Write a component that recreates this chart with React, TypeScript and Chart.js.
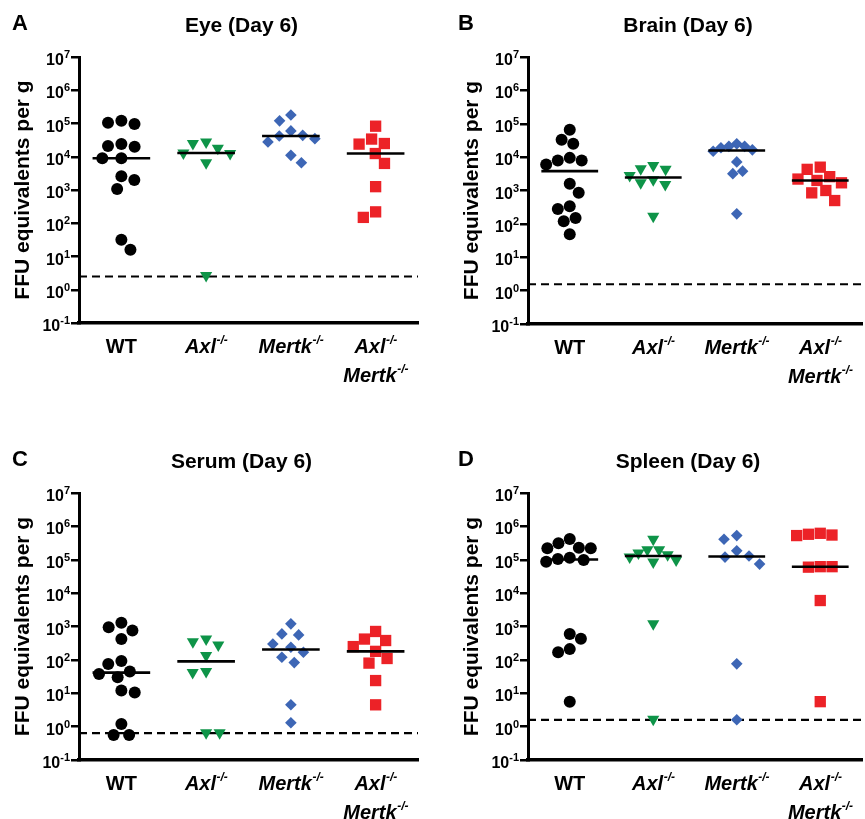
import React, { useEffect, useRef } from 'react';
import { Chart, registerables } from 'chart.js';

Chart.register(...registerables);

// ---------------- data ----------------
const groupLabels = ['WT', 'Axl-/-', 'Mertk-/-', 'Axl-/-\nMertk-/-'];
const groupItalic = [false, true, true, true];
const panelLetters = ['A', 'B', 'C', 'D'];
const panelTitles = ['Eye (Day 6)', 'Brain (Day 6)', 'Serum (Day 6)', 'Spleen (Day 6)'];
const yAxisTitle = 'FFU equivalents per g';
const yTickValues = [1e-1, 1, 1e1, 1e2, 1e3, 1e4, 1e5, 1e6, 1e7];
const detectionLimits = [2.5, 1.55, 0.64, 1.6];

const eyeWT = [1.2e5, 1.05e5, 9.7e4, 2.4e4, 2.1e4, 2.0e4, 9.0e3, 9.0e3, 2.6e3, 2.0e3, 1.07e3, 32, 16];
const eyeAxl = [2.8e4, 2.5e4, 1.8e4, 1.3e4, 1.25e4, 6.6e3, 2.7];
const eyeMertk = [1.8e5, 1.2e5, 6.0e4, 4.4e4, 4.2e4, 3.5e4, 2.8e4, 1.1e4, 6.6e3];
const eyeDKO = [8.3e4, 3.4e4, 2.5e4, 2.4e4, 1.25e4, 6.3e3, 1.26e3, 2.2e2, 1.5e2];

const brainWT = [6.6e4, 3.3e4, 2.5e4, 9.5e3, 7.9e3, 7.9e3, 6.0e3, 1.6e3, 8.5e2, 3.4e2, 2.8e2, 1.5e2, 1.2e2, 49];
const brainAxl = [5.6e3, 4.5e3, 4.3e3, 2.8e3, 2.1e3, 1.7e3, 1.5e3, 1.7e2];
const brainMertk = [2.5e4, 2.1e4, 2.1e4, 1.9e4, 1.65e4, 1.5e4, 7.2e3, 3.8e3, 3.2e3, 2.0e2];
const brainDKO = [5.0e3, 4.3e3, 2.6e3, 2.2e3, 2.0e3, 1.7e3, 1.0e3, 8.5e2, 5.0e2];

const serumWT = [1.3e3, 9.5e2, 7.6e2, 4.2e2, 93, 75, 45, 38, 30, 12, 10.5, 1.2, 0.56, 0.56];
const serumAxl = [4.2e2, 3.5e2, 2.8e2, 1.35e2, 45, 42, 0.65, 0.65];
const serumMertk = [1.2e3, 6.0e2, 5.6e2, 3.0e2, 2.4e2, 1.7e2, 1.2e2, 83, 4.5, 1.3];
const serumDKO = [7.1e2, 4.2e2, 3.8e2, 2.5e2, 1.8e2, 1.1e2, 80, 24, 4.5];

const spleenWT = [4.2e5, 3.1e5, 2.3e5, 2.2e5, 2.2e5, 1.15e5, 1.05e5, 9.8e4, 8.7e4, 6.0e2, 4.3e2, 2.1e2, 1.7e2, 5.6];
const spleenAxl = [4.1e5, 2.0e5, 2.0e5, 1.6e5, 1.4e5, 1.2e5, 9.8e4, 8.5e4, 1.2e3, 1.65];
const spleenMertk = [5.3e5, 4.1e5, 1.85e5, 1.3e5, 1.2e5, 7.4e4, 76, 1.6];
const spleenDKO = [6.2e5, 5.8e5, 5.5e5, 5.3e5, 6.2e4, 6.2e4, 6.0e4, 6.0e3, 5.6];

const panelData = [
  [eyeWT, eyeAxl, eyeMertk, eyeDKO],
  [brainWT, brainAxl, brainMertk, brainDKO],
  [serumWT, serumAxl, serumMertk, serumDKO],
  [spleenWT, spleenAxl, spleenMertk, spleenDKO],
];

// ---------------- styles / layout ----------------
const FONT = '"Liberation Sans", Arial, Helvetica, sans-serif';
const groupColors = ['#000000', '#0e9448', '#3d66b5', '#ec2227'];
const markerStyles = ['circle', 'triangle', 'rectRot', 'rect'];
const markerRadii = [6, 7, 5.8, 8];
const markerRotations = [0, 180, 0, 0];
const SWARM_GAP = 13.5;
const SWARM_MAX = 24;

const layouts = [
  { box: { x: 0, y: 0, w: 430, h: 410, cw: 430 }, area: { left: 79, top: 57, right: 418, bottom: 323 }, letterX: 12 },
  { box: { x: 430, y: 0, w: 435, h: 410, cw: 440 }, area: { left: 528, top: 57, right: 868, bottom: 324 }, letterX: 458 },
  { box: { x: 0, y: 410, w: 430, h: 409, cw: 430 }, area: { left: 79, top: 493, right: 418, bottom: 760 }, letterX: 12 },
  { box: { x: 430, y: 410, w: 435, h: 409, cw: 440 }, area: { left: 528, top: 493, right: 868, bottom: 760 }, letterX: 458 },
];

function median(vals: number[]): number {
  const s = [...vals].sort((a, b) => a - b);
  const n = s.length;
  return n % 2 ? s[(n - 1) / 2] : (s[n / 2 - 1] + s[n / 2]) / 2;
}

// beeswarm: horizontal offsets (px) so markers of diameter d don't overlap,
// compressed to a maximum half-width like a column scatter plot
function swarmOffsets(values: number[], pxPerDecade: number, d: number, maxHalf: number): number[] {
  const idx = values.map((_, i) => i).sort((a, b) => values[b] - values[a]);
  const placed: { x: number; y: number }[] = [];
  const out = new Array(values.length).fill(0);
  let flip = -1;
  for (const i of idx) {
    const y = -Math.log10(values[i]) * pxPerDecade;
    const near = placed.filter((p) => Math.abs(p.y - y) < d);
    const cands = [0];
    for (const p of near) {
      const dx = Math.sqrt(d * d - (p.y - y) * (p.y - y));
      cands.push(p.x + dx, p.x - dx);
    }
    const ok = cands.filter((c) => near.every((p) => (p.x - c) ** 2 + (p.y - y) ** 2 >= d * d - 1e-6));
    ok.sort((a, b) => Math.abs(a) - Math.abs(b));
    const bestAbs = Math.abs(ok[0]);
    const best = ok.filter((c) => Math.abs(Math.abs(c) - bestAbs) < 0.8);
    let x = best[0];
    if (best.length > 1) {
      const side = best.find((c) => Math.sign(c) === flip);
      if (side !== undefined) x = side;
    }
    if (x !== 0) flip = -Math.sign(x);
    placed.push({ x, y });
    out[i] = x;
  }
  const mx = Math.max(...out.map((v) => Math.abs(v)));
  const k = mx > maxHalf ? maxHalf / mx : 1;
  return out.map((v) => v * k);
}

function Panel({ index }: { index: number }) {
  const ref = useRef<HTMLCanvasElement | null>(null);
  const L = layouts[index];
  useEffect(() => {
    const canvas = ref.current;
    if (!canvas) return;
    const { box, area } = L;
    const aLeft = area.left - box.x;
    const aRight = area.right - box.x;
    const aTop = area.top - box.y;
    const aBottom = area.bottom - box.y;
    const pxPerDecade = (aBottom - aTop) / 8;
    const pxPerUnit = (aRight - aLeft) / 4;
    const lod = detectionLimits[index];

    const datasets: any[] = [];
    panelData[index].forEach((vals, gi) => {
      const offs = swarmOffsets(vals, pxPerDecade, SWARM_GAP, SWARM_MAX);
      datasets.push({
        data: vals.map((v, k) => ({ x: gi + offs[k] / pxPerUnit, y: v })),
        pointStyle: markerStyles[gi],
        pointRadius: markerRadii[gi],
        pointHoverRadius: markerRadii[gi],
        pointRotation: markerRotations[gi],
        backgroundColor: groupColors[gi],
        borderColor: groupColors[gi],
        pointBorderWidth: 0,
        showLine: false,
        order: 1,
        clip: false,
      });
      const m = median(vals);
      datasets.push({
        data: [{ x: gi - 0.34, y: m }, { x: gi + 0.34, y: m }],
        showLine: true,
        borderColor: '#000',
        borderWidth: 2.6,
        pointRadius: 0,
        order: 0,
      });
    });
    datasets.push({
      data: [{ x: -0.5, y: lod }, { x: 3.5, y: lod }],
      showLine: true,
      borderColor: '#000',
      borderWidth: 2.2,
      borderDash: [8, 5],
      pointRadius: 0,
      order: 2,
    });

    const textPlugin = {
      id: 'panelText',
      afterDraw(chart: any) {
        const ctx = chart.ctx as CanvasRenderingContext2D;
        const a = chart.chartArea;
        const xs = chart.scales.x;
        const ys = chart.scales.y;
        ctx.save();
        ctx.fillStyle = '#000';
        ctx.textBaseline = 'alphabetic';
        ctx.textAlign = 'left';
        // y tick labels 10^n
        for (const v of yTickValues) {
          const py = ys.getPixelForValue(v);
          const exp = String(Math.round(Math.log10(v)));
          ctx.font = `bold 11px ${FONT}`;
          const ew = ctx.measureText(exp).width;
          ctx.font = `bold 16px ${FONT}`;
          const bw = ctx.measureText('10').width;
          const right = a.left - 9;
          ctx.fillText('10', right - ew - bw, py + 8);
          ctx.font = `bold 11px ${FONT}`;
          ctx.fillText(exp, right - ew, py + 1);
        }
        // x category labels with superscripts
        groupLabels.forEach((lab, i) => {
          const cx = xs.getPixelForValue(i);
          const style = groupItalic[i] ? 'italic bold' : 'bold';
          lab.split('\n').forEach((line, li) => {
            const mm = line.match(/^(.*?)(-\/-)?$/);
            const main = mm ? mm[1] : line;
            const sup = mm && mm[2] ? mm[2] : '';
            ctx.font = `${style} 20px ${FONT}`;
            const mw = ctx.measureText(main).width;
            ctx.font = `${style} 12px ${FONT}`;
            const sw = sup ? ctx.measureText(sup).width : 0;
            const x0 = cx - (mw + sw) / 2;
            const base = a.bottom + 30 + li * 29;
            ctx.font = `${style} 20px ${FONT}`;
            ctx.fillText(main, x0, base);
            if (sup) {
              ctx.font = `${style} 12px ${FONT}`;
              ctx.fillText(sup, x0 + mw + 0.5, base - 9);
            }
          });
        });
        // title
        ctx.textAlign = 'center';
        ctx.font = `bold 21px ${FONT}`;
        ctx.fillText(panelTitles[index], (a.left + a.right) / 2 - 7, a.top - 25);
        // panel letter
        ctx.textAlign = 'left';
        ctx.font = `bold 22px ${FONT}`;
        ctx.fillText(panelLetters[index], L.letterX - L.box.x, a.top - 27);
        // y axis title
        ctx.translate(a.left - 56, (a.top + a.bottom) / 2);
        ctx.rotate(-Math.PI / 2);
        ctx.textAlign = 'center';
        ctx.textBaseline = 'middle';
        ctx.font = `bold 21px ${FONT}`;
        ctx.fillText(yAxisTitle, 0, 0);
        ctx.restore();
      },
    };

    const chart = new Chart(canvas, {
      type: 'scatter',
      data: { datasets },
      options: {
        animation: false,
        responsive: false,
        events: [],
        layout: { padding: { left: 0, top: aTop, right: box.cw - aRight, bottom: 0 } },
        plugins: { legend: { display: false }, tooltip: { enabled: false }, title: { display: false } },
        scales: {
          x: {
            type: 'linear',
            min: -0.5,
            max: 3.5,
            ticks: { display: false },
            grid: { display: true, drawOnChartArea: false, drawTicks: false },
            border: { display: true, width: 3.5, color: '#000' },
            afterFit: (s: any) => { s.height = box.h - aBottom; },
          },
          y: {
            type: 'logarithmic',
            min: 0.1,
            max: 1e7,
            ticks: { display: false },
            afterBuildTicks: (s: any) => { s.ticks = yTickValues.map((v) => ({ value: v, major: true })); },
            grid: { display: true, drawOnChartArea: false, drawTicks: true, tickLength: 8, color: '#000', lineWidth: 2.5 },
            border: { display: true, width: 3, color: '#000' },
            afterFit: (s: any) => { s.width = aLeft; },
          },
        },
      },
      plugins: [textPlugin],
    } as any);
    return () => chart.destroy();
  }, [index]);

  return (
    <div style={{ position: 'absolute', left: L.box.x, top: L.box.y, width: L.box.w, height: L.box.h, overflow: 'hidden' }}>
      <canvas ref={ref} width={L.box.cw} height={L.box.h} style={{ display: 'block' }} />
    </div>
  );
}

export default function App() {
  return (
    <div style={{ position: 'absolute', left: 0, top: 0, width: 865, height: 819, background: '#fff', overflow: 'hidden' }}>
      {[0, 1, 2, 3].map((i) => (
        <Panel key={i} index={i} />
      ))}
    </div>
  );
}
